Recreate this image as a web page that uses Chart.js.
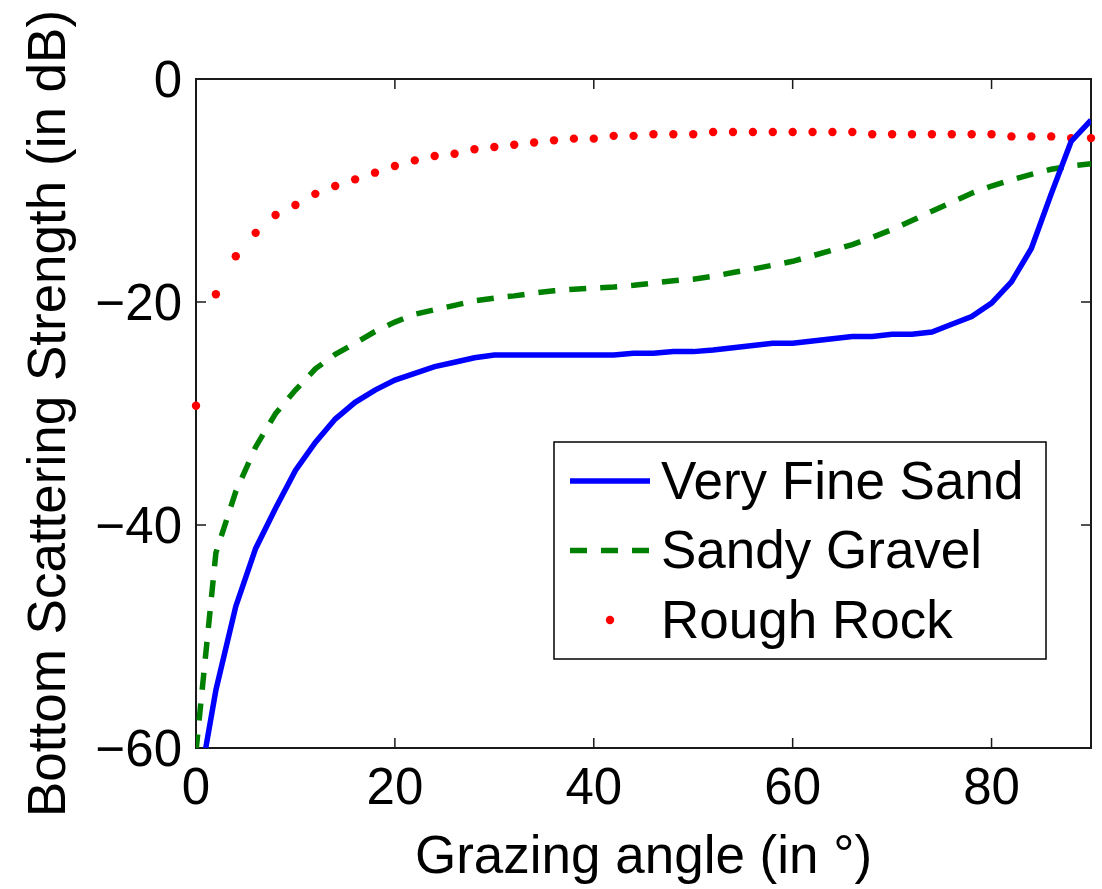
<!DOCTYPE html>
<html>
<head>
<meta charset="utf-8">
<title>Bottom Scattering Strength</title>
<script src="https://cdn.jsdelivr.net/npm/chart.js@4/dist/chart.umd.min.js"></script>
<style>
  html, body { margin: 0; padding: 0; background: #fff; }
  #wrap { width: 1102px; height: 889px; position: relative; }
</style>
</head>
<body>
<div id="wrap"><canvas id="scatterChart"></canvas></div>
<script>
// Grazing angles (degrees), every 2 degrees
const angles = [0, 2, 4, 6, 8, 10, 12, 14, 16, 18, 20, 22, 24, 26, 28, 30, 32, 34, 36, 38,
    40, 42, 44, 46, 48, 50, 52, 54, 56, 58, 60, 62, 64, 66, 68, 70, 72, 74, 76, 78,
    80, 82, 84, 86, 88, 90];

// Bottom scattering strength (dB)
const veryFineSand = [-65, -54.8, -47.3, -42.1, -38.5, -35.1, -32.6, -30.5, -29.0, -27.9,
    -27.0, -26.4, -25.8, -25.4, -25.0, -24.75, -24.75, -24.75, -24.75, -24.75,
    -24.75, -24.75, -24.6, -24.6, -24.45, -24.45, -24.3, -24.1, -23.9, -23.7,
    -23.7, -23.5, -23.3, -23.1, -23.1, -22.9, -22.9, -22.7, -22.0, -21.3,
    -20.1, -18.2, -15.2, -10.3, -5.6, -3.7];
const sandyGravel = [-60.3, -42.5, -37.0, -33.0, -30.0, -27.9, -26.0, -24.7, -23.7, -22.65,
    -21.8, -21.1, -20.7, -20.3, -19.9, -19.65, -19.45, -19.2, -19.0, -18.85,
    -18.75, -18.65, -18.5, -18.3, -18.1, -17.95, -17.7, -17.35, -17.05, -16.7,
    -16.35, -15.85, -15.35, -14.85, -14.2, -13.5, -12.7, -11.85, -11.05, -10.25,
    -9.6, -9.05, -8.55, -8.1, -7.8, -7.6];
const roughRock = [-29.3, -19.3, -15.9, -13.8, -12.2, -11.3, -10.3, -9.6, -9.0, -8.4,
    -7.8, -7.3, -6.9, -6.7, -6.3, -6.1, -5.9, -5.7, -5.5, -5.35,
    -5.35, -5.1, -5.1, -4.95, -4.95, -4.95, -4.75, -4.75, -4.75, -4.75,
    -4.75, -4.75, -4.75, -4.75, -4.95, -4.95, -4.95, -4.95, -4.95, -4.95,
    -4.95, -5.15, -5.15, -5.15, -5.3, -5.3];

const seriesNames = ['Very Fine Sand', 'Sandy Gravel', 'Rough Rock'];
const xTicks = [0, 20, 40, 60, 80];
const yTicks = [-60, -40, -20, 0];

const FONT = '"Liberation Sans", Arial, Helvetica, sans-serif';
const TICK_LEN = 10;

function points(values) {
    return angles.map((a, i) => ({ x: a, y: values[i] }));
}

// MATLAB style box with inward ticks on all four sides
const frameTicks = {
    id: 'frameTicks',
    beforeDatasetsDraw(chart) {
        const { ctx, chartArea: a, scales: { x, y } } = chart;
        ctx.save();
        ctx.strokeStyle = '#1a1a1a';
        ctx.lineWidth = 1.5;
        ctx.beginPath();
        xTicks.forEach(v => {
            const px = x.getPixelForValue(v);
            ctx.moveTo(px, a.bottom); ctx.lineTo(px, a.bottom - TICK_LEN);
            ctx.moveTo(px, a.top); ctx.lineTo(px, a.top + TICK_LEN);
        });
        yTicks.forEach(v => {
            const py = y.getPixelForValue(v);
            ctx.moveTo(a.left, py); ctx.lineTo(a.left + TICK_LEN, py);
            ctx.moveTo(a.right, py); ctx.lineTo(a.right - TICK_LEN, py);
        });
        ctx.stroke();
        ctx.lineWidth = 2;
        ctx.strokeRect(a.left, a.top, a.right - a.left, a.bottom - a.top);
        ctx.restore();
    }
};

// Boxed legend inside the plot, lower right
const boxLegend = {
    id: 'boxLegend',
    afterDatasetsDraw(chart) {
        const { ctx, chartArea: a } = chart;
        const w = 492, h = 217;
        const left = a.right - 45 - w;
        const top = a.bottom - 89 - h;
        ctx.save();
        ctx.fillStyle = '#fff';
        ctx.fillRect(left, top, w, h);
        ctx.strokeStyle = '#000';
        ctx.lineWidth = 1.5;
        ctx.strokeRect(left, top, w, h);
        ctx.font = '53px ' + FONT;
        ctx.textBaseline = 'middle';
        ctx.textAlign = 'left';
        chart.data.datasets.forEach((ds, i) => {
            const cy = top + 42 + i * 69.5;
            const x0 = left + 16, x1 = left + 96;
            if (ds.showLine === false) {
                ctx.fillStyle = ds.backgroundColor;
                ctx.beginPath();
                ctx.arc((x0 + x1) / 2, cy - 3, ds.pointRadius, 0, Math.PI * 2);
                ctx.fill();
            } else {
                ctx.strokeStyle = ds.borderColor;
                ctx.lineWidth = ds.borderWidth;
                ctx.setLineDash(ds.borderDash || []);
                ctx.beginPath();
                ctx.moveTo(x0, cy - 3);
                ctx.lineTo(x1, cy - 3);
                ctx.stroke();
                ctx.setLineDash([]);
            }
            ctx.fillStyle = '#000';
            ctx.fillText(ds.label, left + 107, cy);
        });
        ctx.restore();
    }
};

new Chart(document.getElementById('scatterChart').getContext('2d'), {
    type: 'line',
    data: {
        datasets: [
            {
                label: seriesNames[0],
                data: points(veryFineSand),
                borderColor: '#0000ff',
                borderWidth: 5.5,
                pointRadius: 0,
                tension: 0,
                fill: false
            },
            {
                label: seriesNames[1],
                data: points(sandyGravel),
                borderColor: '#008000',
                borderWidth: 5.5,
                borderDash: [17, 14],
                borderCapStyle: 'butt',
                pointRadius: 0,
                tension: 0,
                fill: false
            },
            {
                label: seriesNames[2],
                data: points(roughRock),
                showLine: false,
                backgroundColor: '#ff0000',
                borderColor: '#ff0000',
                borderWidth: 0,
                pointRadius: 4.2,
                pointStyle: 'circle',
                clip: false
            }
        ]
    },
    options: {
        responsive: true,
        maintainAspectRatio: false,
        animation: false,
        layout: { padding: { left: 0, top: 79, right: 11, bottom: 0 } },
        plugins: {
            legend: { display: false },
            tooltip: { enabled: false }
        },
        scales: {
            x: {
                type: 'linear',
                min: 0,
                max: 90,
                grid: { display: false, drawTicks: false },
                border: { display: false },
                afterBuildTicks: s => { s.ticks = xTicks.map(v => ({ value: v })); },
                afterFit: s => { s.height = 141; },
                ticks: {
                    color: '#000',
                    padding: 11,
                    maxRotation: 0,
                    font: { family: FONT, size: 51 }
                },
                title: {
                    display: true,
                    text: 'Grazing angle (in \u00b0)',
                    color: '#000',
                    padding: { top: 0, bottom: 4 },
                    font: { family: FONT, size: 53, lineHeight: 1 }
                }
            },
            y: {
                type: 'linear',
                min: -60,
                max: 0,
                grid: { display: false, drawTicks: false },
                border: { display: false },
                afterBuildTicks: s => { s.ticks = yTicks.map(v => ({ value: v })); },
                afterFit: s => { s.width = 196; },
                ticks: {
                    color: '#000',
                    padding: 14,
                    labelOffset: 4,
                    font: { family: FONT, size: 51 },
                    callback: v => (v < 0 ? '\u2212' + Math.abs(v) : String(v))
                },
                title: {
                    display: true,
                    text: 'Bottom Scattering Strength (in dB)',
                    color: '#000',
                    padding: { top: 19, bottom: 0 },
                    font: { family: FONT, size: 53, lineHeight: 1.2 }
                }
            }
        }
    },
    plugins: [frameTicks, boxLegend]
});
</script>
</body>
</html>
